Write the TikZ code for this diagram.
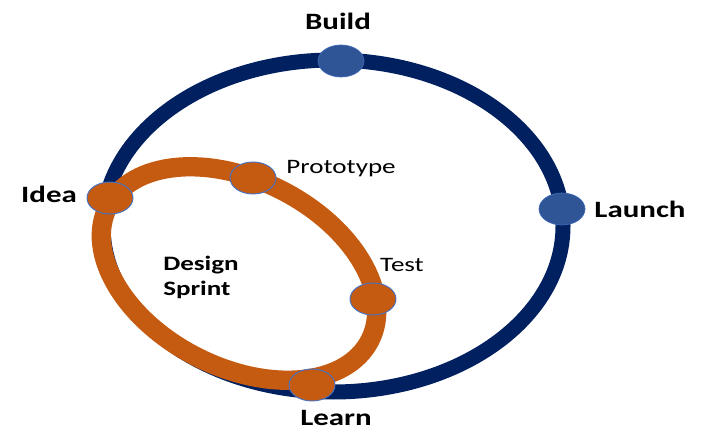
\documentclass[tikz,border=0pt]{standalone}
\usepackage{fontspec}
\setmainfont{Carlito}[FakeStretch=1.32]
\usetikzlibrary{shapes.geometric}
\definecolor{loopnavy}{HTML}{002060}
\definecolor{loopblue}{HTML}{2F5597}
\definecolor{looporange}{HTML}{C55A11}
\definecolor{rimblue}{HTML}{4472C4}

\begin{document}
\begin{tikzpicture}[x=0.03cm, y=0.03cm,
  dot/.style={ellipse, minimum width=1.38cm, minimum height=0.96cm, inner sep=0pt},
  bigdot/.style={dot, fill=loopblue, draw=rimblue!70!loopblue, line width=0.6pt},
  sprintdot/.style={dot, fill=looporange, draw=rimblue, line width=0.8pt},
  biglabel/.style={anchor=base, font=\bfseries\fontsize{20}{24}\selectfont},
  smalllabel/.style={anchor=base, font=\fontsize{17.5}{21}\selectfont}]

  \useasboundingbox (0,0) rectangle (708,446);

  % Product loop
  \draw[loopnavy, line width=12.8pt] (333,220) ellipse [x radius=230, y radius=166];

  % Design sprint loop
  \draw[looporange, line width=16.5pt, rotate around={-27:(239,172.5)}]
    (239,172.5) ellipse [x radius=147, y radius=93.5];

  % Stages
  \node[bigdot] (build) at (341,385) {};
  \node[bigdot] (launch) at (562,237) {};
  \node[sprintdot] (idea) at (110,248) {};
  \node[sprintdot] (proto) at (253,268) {};
  \node[sprintdot] (test) at (373,147) {};
  \node[sprintdot] (learn) at (312,61) {};

  % Labels
  \node[biglabel] (buildtxt) at (338,416) {Build};
  \node[biglabel] (launchtxt) at (640,228) {Launch};
  \node[biglabel] (ideatxt) at (49,243) {Idea};
  \node[biglabel] (learntxt) at (336,21) {Learn};
  \node[smalllabel] (prototxt) at (341,272) {Prototype};
  \node[smalllabel] (testtxt) at (402,174) {Test};
  \node[biglabel, font=\bfseries\fontsize{17.5}{21}\selectfont, align=left] (sprinttxt) at (201,151) {Design\\Sprint};

\end{tikzpicture}
\end{document}
